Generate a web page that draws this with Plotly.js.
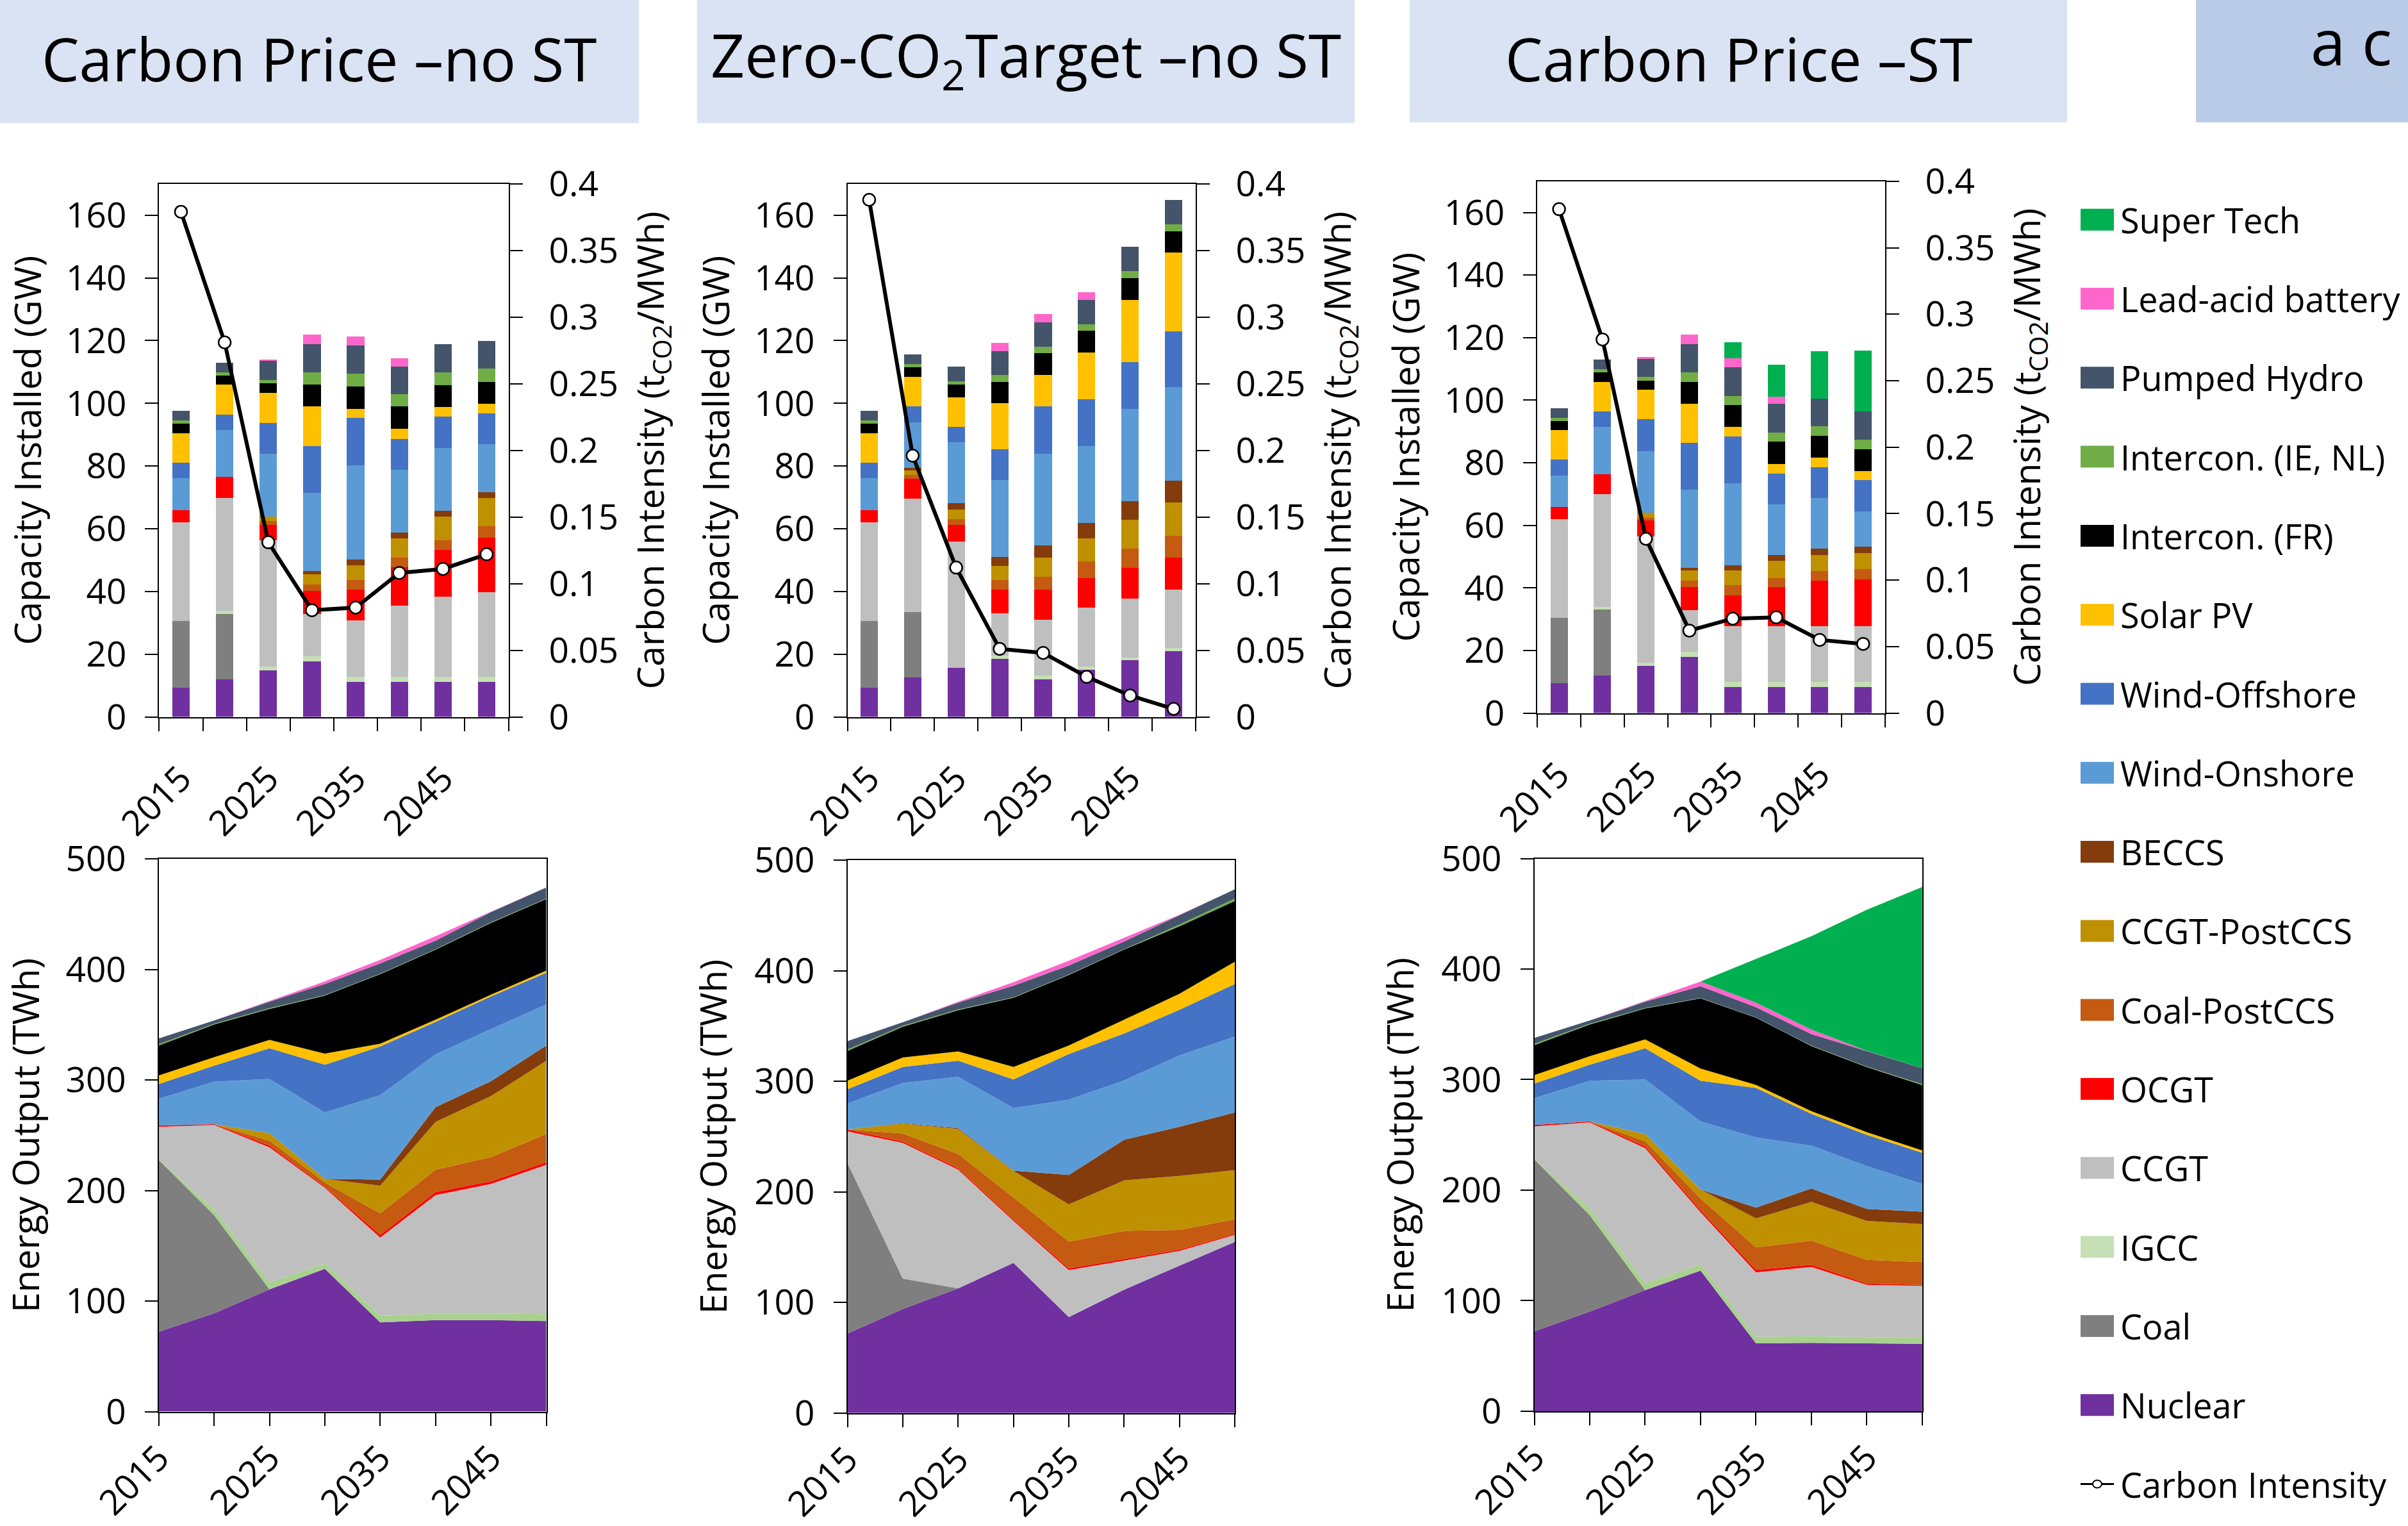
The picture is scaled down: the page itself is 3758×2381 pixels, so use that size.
<!DOCTYPE html>
<html>
<head>
<meta charset="utf-8">
<script src="https://cdn.plot.ly/plotly-3.0.1.min.js"></script>
<style>
  html, body { margin: 0; padding: 0; background: #fff; }
  #chart { width: 3758px; height: 2381px; }
</style>
</head>
<body>
<div id="chart"></div>
<script>
// ---- Data -------------------------------------------------------------
const years = [2015, 2020, 2025, 2030, 2035, 2040, 2045, 2050];
const yearLabels = ['2015', '2025', '2035', '2045'];

// Technologies, stacked from bottom to top
const techNames = ['Nuclear', 'Coal', 'IGCC', 'CCGT', 'OCGT', 'Coal-PostCCS', 'CCGT-PostCCS', 'BECCS',
  'Wind-Onshore', 'Wind-Offshore', 'Solar PV', 'Intercon. (FR)', 'Intercon. (IE, NL)',
  'Pumped Hydro', 'Lead-acid battery', 'Super Tech'];
const techColors = ['#7030A0', '#7F7F7F', '#C5E0B4', '#BFBFBF', '#FF0000', '#C55A11', '#BF9000', '#843C0C',
  '#5B9BD5', '#4472C4', '#FFC000', '#000000', '#70AD47', '#44546A', '#FF66CC', '#00B050'];
const areaColors = ['#7030A0', '#7F7F7F', '#A9D18E', '#BFBFBF', '#FF0000', '#C55A11', '#BF9000', '#843C0C',
  '#5B9BD5', '#4472C4', '#FFC000', '#000000', '#70AD47', '#44546A', '#FF66CC', '#00B050'];

const scenarioTitles = ['Carbon Price \u2013no ST', 'Zero-CO<sub>2</sub>Target \u2013no ST', 'Carbon Price \u2013ST'];

// Installed capacity (GW), one row per technology
const capCarbonNoST = [
  [9.4, 11.9, 14.9, 17.7, 11.2, 11.2, 11.2, 11.2],
  [21.1, 20.9, 0, 0, 0, 0, 0, 0],
  [0, 1.0, 1.1, 1.6, 1.5, 1.5, 1.5, 1.5],
  [31.5, 36.1, 40.4, 13.5, 18.1, 22.7, 25.6, 27.1],
  [4.0, 6.6, 4.8, 7.4, 9.7, 12.4, 14.9, 17.4],
  [0, 0, 1.2, 2.1, 3.2, 3.0, 3.1, 3.6],
  [0, 0, 1.4, 3.1, 4.6, 6.1, 7.5, 9.1],
  [0, 0, 0, 1.0, 1.9, 1.8, 2.0, 1.8],
  [10.1, 14.9, 20.1, 25.0, 30.1, 20.1, 19.9, 15.2],
  [4.9, 5.0, 9.9, 15.0, 15.0, 9.9, 10.1, 9.9],
  [9.5, 9.5, 9.5, 12.6, 3.0, 3.1, 3.0, 3.1],
  [3.0, 2.9, 3.0, 6.9, 7.0, 7.2, 7.0, 7.0],
  [1.1, 1.1, 1.1, 4.0, 4.1, 3.9, 4.1, 4.1],
  [3.0, 3.0, 6.1, 9.0, 9.0, 8.9, 9.0, 8.9],
  [0, 0, 0.4, 3.1, 2.9, 2.5, 0, 0],
  [0, 0, 0, 0, 0, 0, 0, 0]
];
const capZeroCO2 = [
  [9.4, 12.5, 15.6, 18.6, 11.9, 15.1, 18.1, 20.9],
  [21.1, 20.9, 0, 0, 0, 0, 0, 0],
  [0, 0, 0, 1.0, 1.2, 0.9, 0.9, 1.0],
  [31.5, 36.1, 40.4, 13.4, 17.8, 18.8, 18.8, 18.7],
  [4.0, 6.5, 5.2, 7.5, 9.7, 9.5, 9.8, 10.2],
  [0, 1.1, 1.8, 3.2, 4.0, 5.2, 6.1, 7.0],
  [0, 1.5, 3.2, 4.5, 6.2, 7.4, 9.1, 10.5],
  [0, 0.8, 2.0, 2.9, 3.8, 5.0, 5.9, 7.0],
  [10.1, 14.5, 19.4, 24.5, 29.4, 24.5, 29.6, 29.8],
  [4.9, 5.1, 4.8, 9.8, 15.1, 14.9, 14.8, 17.9],
  [9.5, 9.5, 9.4, 14.6, 10.0, 15.0, 19.9, 25.0],
  [3.0, 3.0, 4.1, 6.9, 7.0, 6.9, 7.0, 6.8],
  [1.1, 1.0, 1.1, 2.1, 1.9, 2.0, 2.2, 2.3],
  [3.0, 3.0, 4.7, 7.7, 7.9, 7.8, 7.8, 7.8],
  [0, 0, 0, 2.6, 2.6, 2.5, 0, 0],
  [0, 0, 0, 0, 0, 0, 0, 0]
];
const capCarbonST = [
  [9.5, 11.9, 15.0, 18.0, 8.2, 8.2, 8.2, 8.2],
  [21.0, 21.2, 0, 0, 0, 0, 0, 0],
  [0, 0.9, 1.1, 1.5, 1.7, 1.7, 1.7, 1.7],
  [31.5, 36.0, 40.3, 13.4, 17.8, 17.8, 17.8, 17.8],
  [3.9, 6.4, 5.1, 7.4, 10.0, 12.6, 14.6, 15.1],
  [0, 0, 0.9, 2.0, 3.1, 2.9, 3.0, 3.2],
  [0, 0, 1.7, 3.3, 4.8, 5.5, 5.2, 5.2],
  [0, 0, 0, 0.8, 1.7, 1.8, 2.1, 1.9],
  [10.1, 15.1, 19.7, 25.1, 26.1, 16.2, 16.1, 11.3],
  [5.0, 5.0, 10.1, 14.9, 15.1, 9.9, 9.9, 10.0],
  [9.4, 9.4, 9.4, 12.4, 3.0, 3.1, 3.0, 3.0],
  [2.9, 2.9, 2.9, 7.0, 6.9, 7.0, 7.0, 7.0],
  [1.1, 1.1, 1.2, 3.2, 3.0, 3.0, 3.1, 3.0],
  [3.0, 3.0, 5.9, 9.0, 9.1, 9.1, 8.9, 9.1],
  [0, 0, 0.6, 3.0, 3.0, 2.3, 0, 0],
  [0, 0, 0, 0, 5.1, 10.2, 15.1, 19.3]
];

// Carbon intensity (tCO2/MWh)
const intensityCarbonNoST = [0.379, 0.281, 0.131, 0.080, 0.082, 0.108, 0.111, 0.122];
const intensityZeroCO2 = [0.388, 0.196, 0.112, 0.051, 0.048, 0.030, 0.016, 0.006];
const intensityCarbonST = [0.379, 0.281, 0.131, 0.062, 0.071, 0.072, 0.055, 0.052];

// Energy output (TWh), one row per technology
const energyCarbonNoST = [
  [72.3, 88.9, 110.7, 129.2, 80.8, 82.8, 82.8, 82.0],
  [155.5, 88.8, 0, 0, 0, 0, 0, 0],
  [0.4, 5.3, 6.4, 4.9, 6.0, 6.1, 6.1, 6.4],
  [29.5, 76.3, 122.0, 68.4, 70.7, 107.0, 117.1, 134.9],
  [1.2, 0.8, 1.6, 0.9, 2.4, 2.8, 2.4, 2.5],
  [0, 0, 4.5, 3.9, 19.4, 20.2, 21.8, 25.4],
  [0, 0, 6.8, 3.3, 25.1, 43.2, 55.3, 66.2],
  [0, 0, 0, 0, 5.6, 13.3, 13.4, 13.8],
  [24.2, 38.4, 48.9, 60.0, 76.3, 47.7, 47.2, 37.1],
  [13.3, 14.5, 27.9, 43.2, 44.1, 29.5, 29.5, 28.7],
  [7.7, 7.7, 7.6, 10.1, 2.4, 2.0, 1.6, 2.0],
  [27.1, 29.5, 27.9, 52.5, 63.0, 63.4, 65.0, 64.7],
  [1.2, 0.8, 0.8, 0.4, 0.4, 0.4, 0.5, 0.4],
  [5.2, 2.8, 5.7, 10.1, 9.3, 7.7, 9.2, 10.1],
  [0, 0, 0.8, 2.4, 3.2, 4.0, 0.4, 0],
  [0, 0, 0, 0, 0, 0, 0, 0]
];
const energyZeroCO2 = [
  [71.9, 94.1, 112.7, 135.7, 86.8, 111.5, 133.3, 154.7],
  [154.3, 27.5, 0, 0, 0, 0, 0, 0],
  [0, 0, 0, 0, 0, 0, 0, 0],
  [28.6, 122.7, 107.4, 38.0, 42.4, 26.6, 13.3, 6.4],
  [1.7, 1.3, 1.2, 1.2, 1.7, 1.2, 1.2, 0.9],
  [0, 7.2, 13.0, 20.2, 24.2, 25.5, 17.8, 13.3],
  [0, 8.9, 22.6, 23.8, 33.5, 45.6, 48.9, 44.4],
  [0, 0.4, 0.8, 0.4, 26.7, 36.8, 44.4, 52.1],
  [23.4, 36.4, 46.4, 56.5, 68.2, 53.7, 64.6, 68.7],
  [12.9, 14.5, 14.6, 25.9, 41.2, 42.4, 41.2, 47.6],
  [7.7, 8.5, 8.4, 11.3, 7.7, 12.5, 14.5, 20.2],
  [27.0, 27.9, 37.2, 62.6, 63.8, 63.4, 61.0, 54.9],
  [1.3, 0.8, 0.8, 0.4, 0.4, 0.4, 1.6, 2.1],
  [7.6, 3.2, 6.1, 10.5, 8.1, 6.9, 8.5, 8.4],
  [0, 0, 0.8, 3.2, 4.4, 3.2, 0.4, 0],
  [0, 0, 0, 0, 0, 0, 0, 0]
];
const energyCarbonST = [
  [72.3, 90.1, 109.5, 127.2, 61.4, 61.8, 61.4, 61.0],
  [155.5, 87.2, 0, 0, 0, 0, 0, 0],
  [0.4, 6.1, 6.4, 5.7, 6.0, 6.1, 5.6, 5.6],
  [29.5, 77.9, 122.0, 47.0, 58.2, 62.6, 47.3, 46.9],
  [1.2, 0.8, 1.6, 1.9, 2.4, 2.0, 1.2, 0.8],
  [0, 0, 4.8, 10.6, 20.2, 21.8, 21.4, 20.6],
  [0, 0, 6.5, 8.1, 26.3, 35.1, 35.2, 34.3],
  [0, 0, 0, 0, 9.7, 12.1, 10.9, 11.3],
  [24.2, 36.8, 49.3, 61.6, 63.4, 38.8, 38.7, 25.1],
  [13.3, 14.5, 28.3, 36.9, 44.8, 28.7, 28.3, 28.2],
  [7.7, 7.7, 8.0, 11.0, 2.8, 2.4, 2.4, 2.1],
  [27.1, 28.7, 27.9, 63.4, 60.8, 58.9, 58.9, 59.2],
  [1.2, 0.8, 0.4, 0.4, 0.4, 0.4, 0.4, 0.8],
  [5.2, 2.8, 5.7, 10.7, 9.1, 10.4, 14.1, 14.3],
  [0, 0, 0.8, 4.2, 4.1, 4.1, 0.3, 0],
  [0, 0, 0, 0, 39.5, 84.5, 127.5, 164.0]
];

const capTicks = [0, 20, 40, 60, 80, 100, 120, 140, 160];
const ciTicks = [0, 0.05, 0.1, 0.15, 0.2, 0.25, 0.3, 0.35, 0.4];
const ciTickText = ['0', '0.05', '0.1', '0.15', '0.2', '0.25', '0.3', '0.35', '0.4'];
const energyTicks = [0, 100, 200, 300, 400, 500];

// ---- Page geometry (pixels) -----------------------------------------
const W = 3758, H = 2381;
const px = x => x / W;
const py = y => 1 - y / H;

const barFrames = [
  { x0: 248.4, x1: 793.5, y0: 286.8, y1: 1118.5 },
  { x0: 1322.5, x1: 1865.6, y0: 286.8, y1: 1118.5 },
  { x0: 2399.2, x1: 2941.6, y0: 282.8, y1: 1112.5 }
];
const areaFrames = [
  { x0: 247.8, x1: 852.5, y0: 1340.2, y1: 2202.6 },
  { x0: 1322.5, x1: 1927.2, y0: 1342.2, y1: 2204.7 },
  { x0: 2394.5, x1: 2999.9, y0: 1339.5, y1: 2201.9 }
];
const titleBoxes = [
  { x0: 0, x1: 997, y0: 0, y1: 192 },
  { x0: 1088, x1: 2114, y0: 0, y1: 192 },
  { x0: 2200, x1: 3226, y0: 0, y1: 191 }
];

const FONT = 'Open Sans, Noto Sans, sans-serif';
const TICK = 55;
const TITLE = 57;

const scenarios = [
  { cap: capCarbonNoST, ci: intensityCarbonNoST, energy: energyCarbonNoST },
  { cap: capZeroCO2, ci: intensityZeroCO2, energy: energyZeroCO2 },
  { cap: capCarbonST, ci: intensityCarbonST, energy: energyCarbonST }
];

const traces = [];
const layout = {
  width: W, height: H,
  margin: { l: 0, r: 0, t: 0, b: 0 },
  paper_bgcolor: '#fff', plot_bgcolor: 'rgba(0,0,0,0)',
  font: { family: FONT, size: TICK, color: '#000' },
  showlegend: false,
  barmode: 'stack',
  shapes: [],
  annotations: []
};

const boundaries = years.map(y => y - 2.5).concat([years[years.length - 1] + 2.5]);
const labelYears = yearLabels.map(Number);
const axisCommon = {
  showline: true, linecolor: '#000', linewidth: 2,
  showgrid: false, zeroline: false,
  tickcolor: '#000', tickwidth: 2,
  tickfont: { family: FONT, size: TICK, color: '#000' }
};

scenarios.forEach((sc, s) => {
  // --- capacity bars + carbon intensity line ---
  const xId = s === 0 ? 'x' : 'x' + (s + 1);
  const yId = s === 0 ? 'y' : 'y' + (2 * s + 1);
  const y2Id = 'y' + (2 * s + 2);
  const xKey = s === 0 ? 'xaxis' : 'xaxis' + (s + 1);
  const yKey = s === 0 ? 'yaxis' : 'yaxis' + (2 * s + 1);
  const y2Key = 'yaxis' + (2 * s + 2);
  const f = barFrames[s];

  techNames.forEach((name, i) => {
    traces.push({
      type: 'bar', name: name, x: years, y: sc.cap[i], width: 2,
      xaxis: xId, yaxis: yId,
      marker: { color: techColors[i], line: { width: 0 } },
      hoverinfo: 'skip'
    });
  });
  traces.push({
    type: 'scatter', mode: 'lines+markers', name: 'Carbon Intensity',
    x: years, y: sc.ci, xaxis: xId, yaxis: y2Id,
    line: { color: '#000', width: 6 },
    marker: { size: 19, color: '#fff', line: { color: '#000', width: 2.5 } },
    cliponaxis: false, hoverinfo: 'skip'
  });

  layout[xKey] = Object.assign({}, axisCommon, {
    domain: [px(f.x0), px(f.x1)], anchor: yId,
    range: [2012.5, 2052.5],
    tickmode: 'array', tickvals: labelYears, ticktext: yearLabels,
    ticks: '', tickangle: -45, mirror: true, ticklabelstandoff: 40,
    minor: { tickmode: 'array', tickvals: boundaries, ticks: 'outside', ticklen: 20, tickwidth: 2, tickcolor: '#000' }
  });
  layout[yKey] = Object.assign({}, axisCommon, {
    domain: [py(f.y1), py(f.y0)], anchor: xId,
    range: [0, 170], tickmode: 'array', tickvals: capTicks,
    ticks: 'outside', ticklen: 20, mirror: true, ticklabelstandoff: 18,
    title: { text: 'Capacity Installed (GW)', font: { family: FONT, size: TITLE, color: '#000' }, standoff: 20 }
  });
  layout[y2Key] = Object.assign({}, axisCommon, {
    overlaying: yId, side: 'right', anchor: xId,
    range: [0, 0.4], tickmode: 'array', tickvals: ciTicks, ticktext: ciTickText,
    ticks: 'outside', ticklen: 20, ticklabelstandoff: 30,
    title: { text: 'Carbon Intensity (t<sub>CO2</sub>/MWh)', font: { family: FONT, size: TITLE, color: '#000' }, standoff: 32 }
  });

  // --- energy output areas ---
  const exId = 'x' + (s + 4);
  const eyId = 'y' + (s + 7);
  const ef = areaFrames[s];
  techNames.forEach((name, i) => {
    traces.push({
      type: 'scatter', mode: 'lines', name: name, x: years, y: sc.energy[i],
      xaxis: exId, yaxis: eyId, stackgroup: 'energy' + s,
      line: { width: 0, color: areaColors[i] }, fillcolor: areaColors[i],
      hoverinfo: 'skip'
    });
  });
  layout['xaxis' + (s + 4)] = Object.assign({}, axisCommon, {
    domain: [px(ef.x0), px(ef.x1)], anchor: eyId,
    range: [2015, 2050], tickmode: 'array', tickvals: labelYears, ticktext: yearLabels,
    ticks: 'outside', ticklen: 20, tickangle: -45, mirror: true, ticklabelstandoff: -4,
    minor: { tickmode: 'array', tickvals: years, ticks: 'outside', ticklen: 20, tickwidth: 2, tickcolor: '#000' }
  });
  layout['yaxis' + (s + 7)] = Object.assign({}, axisCommon, {
    domain: [py(ef.y1), py(ef.y0)], anchor: exId,
    range: [0, 500], tickmode: 'array', tickvals: energyTicks,
    ticks: 'outside', ticklen: 20, mirror: true, ticklabelstandoff: 18,
    title: { text: 'Energy Output (TWh)', font: { family: FONT, size: TITLE, color: '#000' }, standoff: 24 }
  });

  // --- scenario header ---
  const b = titleBoxes[s];
  layout.shapes.push({
    type: 'rect', xref: 'paper', yref: 'paper', layer: 'below',
    x0: px(b.x0), x1: px(b.x1), y0: py(b.y1), y1: py(b.y0),
    fillcolor: '#DAE3F3', line: { width: 0 }
  });
  layout.annotations.push({
    xref: 'paper', yref: 'paper', x: px((b.x0 + b.x1) / 2), y: py(91),
    xanchor: 'center', yanchor: 'middle', showarrow: false,
    text: scenarioTitles[s], font: { family: FONT, size: 93, color: '#000' }
  });
});

// partially visible header at the right edge
layout.shapes.push({
  type: 'rect', xref: 'paper', yref: 'paper', layer: 'below',
  x0: px(3427), x1: 1, y0: py(191), y1: 1,
  fillcolor: '#BACBE8', line: { width: 0 }
});
layout.annotations.push({
  xref: 'paper', yref: 'paper', x: px(3604), y: py(64),
  xanchor: 'left', yanchor: 'middle', showarrow: false,
  text: 'a c', font: { family: FONT, size: 98, color: '#000' }
});

// ---- legend (drawn top to bottom) -----------------------------------
const legendTop = 342.7, legendStep = 123.3;
const swX0 = 3247, swX1 = 3299, textX = 3307;
for (let k = 0; k < techNames.length; k++) {
  const i = techNames.length - 1 - k;
  const yc = legendTop + k * legendStep;
  layout.shapes.push({
    type: 'rect', xref: 'paper', yref: 'paper',
    x0: px(swX0), x1: px(swX1), y0: py(yc + 17), y1: py(yc - 17),
    fillcolor: techColors[i], line: { width: 0 }
  });
  layout.annotations.push({
    xref: 'paper', yref: 'paper', x: px(textX), y: py(yc),
    xanchor: 'left', yanchor: 'middle', showarrow: false,
    text: techNames[i], font: { family: FONT, size: 54, color: '#000' }
  });
}
{
  const yc = legendTop + techNames.length * legendStep;
  layout.shapes.push({
    type: 'line', xref: 'paper', yref: 'paper',
    x0: px(swX0), x1: px(swX1), y0: py(yc), y1: py(yc),
    line: { color: '#000', width: 3 }
  });
  layout.shapes.push({
    type: 'circle', xref: 'paper', yref: 'paper',
    x0: px(3266), x1: px(3280), y0: py(yc + 6), y1: py(yc - 6),
    fillcolor: '#fff', line: { color: '#000', width: 2 }
  });
  layout.annotations.push({
    xref: 'paper', yref: 'paper', x: px(textX), y: py(yc),
    xanchor: 'left', yanchor: 'middle', showarrow: false,
    text: 'Carbon Intensity', font: { family: FONT, size: 54, color: '#000' }
  });
}

Plotly.newPlot('chart', traces, layout, { displayModeBar: false, staticPlot: true });
</script>
</body>
</html>
